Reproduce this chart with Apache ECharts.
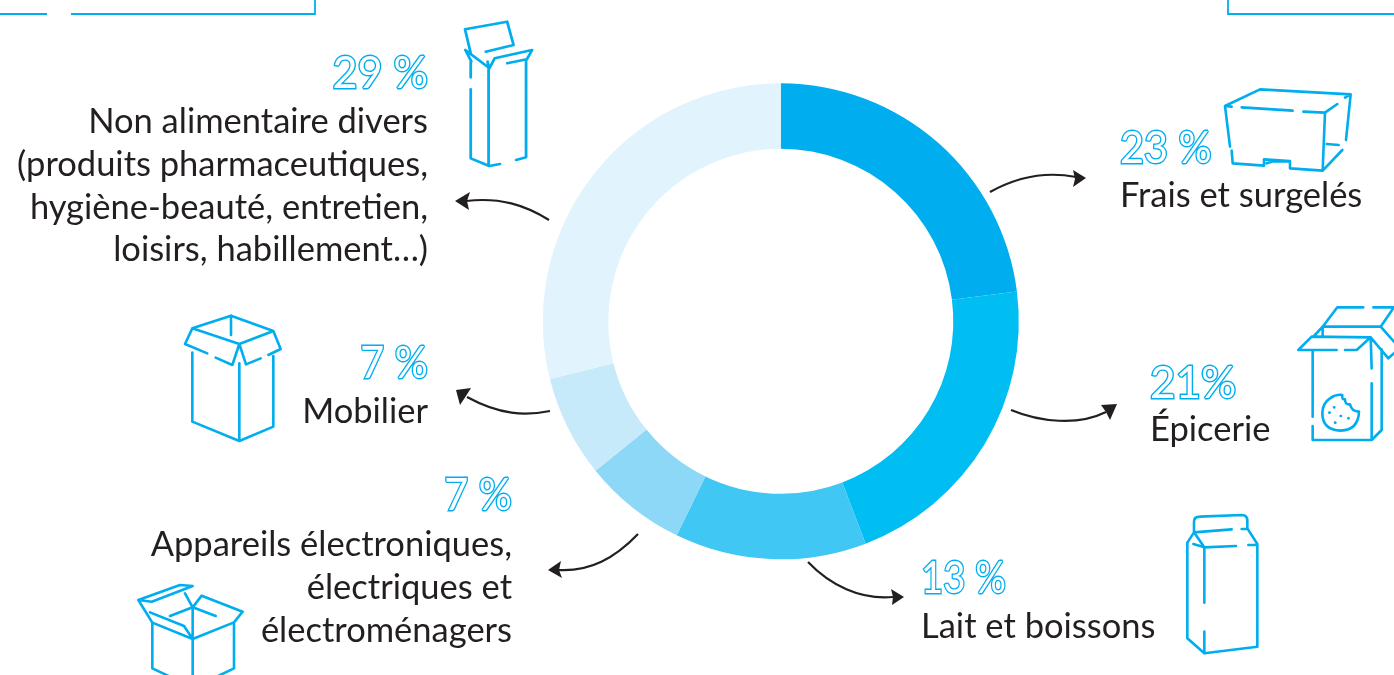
<!DOCTYPE html>
<html lang="fr" style="height: 100%">

<head>
  <meta charset="utf-8">
  <style>
    html,
    body {
      margin: 0;
      padding: 0;
      width: 100%;
      height: 100%;
      overflow: hidden;
      background: #fff;
    }
  </style>
</head>

<body>
  <div id="container" style="height: 100%;width: 100%;"></div>

  <script type="text/javascript" src="https://cdn.jsdelivr.net/npm/echarts@6/dist/echarts.min.js"></script>
  <script type="text/javascript">

    // order = clockwise from 12 o'clock
    const categories = ['Frais et surgelés', 'Épicerie', 'Lait et boissons', 'Appareils électroniques', 'Mobilier', 'Non alimentaire divers'];
    // slice sizes as measured on the picture (the printed labels are rounded)
    const shares = [23, 21.2, 13, 7, 6.9, 28.9];
    const shareLabels = ['23 %', '21%', '13 %', '7 %', '7 %', '29 %'];
    const labelLines = [
      ['Frais et surgelés'],
      ['Épicerie'],
      ['Lait et boissons'],
      ['Appareils électroniques,', 'électriques et', 'électroménagers'],
      ['Mobilier'],
      ['Non alimentaire divers', '(produits pharmaceutiques,', 'hygiène-beauté, entretien,', 'loisirs, habillement…)']
    ];
    const sliceColors = ['#00aeef', '#00bdf2', '#40c7f4', '#8dd7f7', '#c7eafb', '#e1f4fd'];

    const BLUE = '#00aeef';
    const DARK = '#231f20';
    const LINE_H = 42.7;

    // [x, pct centre y, first text line centre y, align, pct squeeze]
    const textPos = [
      [1120, 149, 196, 'left', 0.94],
      [1150, 384, 430, 'left', 1],
      [921, 579, 627, 'left', 0.87],
      [512, 496, 545, 'right', 0.94],
      [428, 364, 412, 'right', 0.94],
      [428, 74, 122, 'right', 0.98]
    ];

    // [start curve, arrow head]
    const arrows = [
      ['M990 192 C1015 178 1045 171 1076 177', 'M1086 178 L1073 170 L1075 179 L1073 187 Z'],
      ['M1011 410 C1040 422 1078 426 1106 412', 'M1117 404 L1101 405 L1106 412 L1110 420 Z'],
      ['M808 562 C830 585 860 600 893 597', 'M904 597 L891 589 L893 597 L892 605 Z'],
      ['M638 534 C615 558 590 572 558 570', 'M548 570 L561 561 L559 570 L562 578 Z'],
      ['M550 411 C525 416 500 415 467 397', 'M456 390 L471 388 L466 396 L460 405 Z'],
      ['M549 220 C525 205 500 197 466 201', 'M455 201 L470 192 L467 201 L469 210 Z']
    ];

    // icons, traced in zoomed pixels: [offset x, offset y, scale x, scale y, path]
    const icons = [
      [1100, 0, 3, 3, 'M375 318L480 268L752 283L738 420M727 450L668 512L570 505L570 483L492 478L492 497L398 490L395 452M390 440L375 318L395 320M425 322L578 332M610 335L675 338L712 312M735 293L752 283M675 338L668 512M680 432L716 435M500 490L520 484L570 484'],
      [1130, 290, 3, 3, 'M548 180L548 380M548 408L548 450L725 450L755 420L755 178M725 450L725 280M725 235L722 142M505 180L620 180M645 180L680 180L722 142L545 140L505 180M578 140L578 110L622 52L700 52M730 52L792 52L752 110L578 110M552 138L578 110M752 110L792 155M722 142L775 205L792 190M600 325Q618 312 637 315Q635 330 645 328Q645 345 660 343Q665 365 687 365Q685 420 632 422Q577 420 577 370Q577 340 600 325M612 352L613 352M598 368L599 368M632 378L633 378M655 385L656 385M615 398L616 398'],
      [1170, 500, 3, 3, 'M72 97L72 65Q72 50 90 50L215 45Q232 45 232 62L232 85L262 132L262 440L103 460L52 415L52 128L72 97L103 142L198 138M235 135L262 135M72 97L185 88M215 87L232 87M70 132L103 142M103 142L103 308M103 395L103 460'],
      [120, 570, 3, 3, 'M55 90L180 45L218 48L95 95L55 90L97 158L218 207M90 127L192 168L218 207L342 157L368 125L245 77L218 112L195 70M218 112L150 138M218 112L287 138M218 112L218 320M97 158L97 295L150 320M342 157L342 295L290 320'],
      [120, 300, 3, 3, 'M217 85L333 47L460 93L358 132L217 85M333 47L333 105M217 85L195 132L262 160M287 173L337 195L358 132M460 93L482 147L445 165M422 175L378 193L358 132M217 158L217 365L358 423L460 380L460 168M358 190L358 423'],
      [0, 0, 2.8, 3, 'M1302 88L1420 65L1438 135L1360 155M1302 88L1318 160M1303 150L1365 200M1303 150L1320 185M1365 185L1370 205L1385 175L1490 150L1475 178L1420 190M1318 185L1318 232M1318 268L1318 475L1370 498L1400 492M1445 480L1473 472L1473 178M1368 205L1368 498']
    ];

    // bits of the neighbouring frames at the page edge
    const frames = 'M0 14L47 14M71 14L315 14L315 0M1228 0L1228 14L1394 14';

    var dom = document.getElementById('container');
    var myChart = echarts.init(dom, null, { renderer: 'canvas' });

    // graphic component has no plain 'path' type, so register each path as a shape
    let shapeCount = 0;
    function pathShape(d) {
      let name = 'deco' + shapeCount++;
      echarts.graphic.registerShape(name, echarts.graphic.extendPath(d, {}));
      return name;
    }

    let graphics = [];

    textPos.forEach((p, i) => {
      graphics.push({
        type: 'text', silent: true, x: p[0], y: p[1], scaleX: p[4],
        style: {
          text: shareLabels[i], textAlign: p[3], textVerticalAlign: 'middle',
          font: '400 44px Lato', fill: '#fff', stroke: BLUE, lineWidth: 2.8
        }
      });
      labelLines[i].forEach((line, j) => {
        graphics.push({
          type: 'text', silent: true, x: p[0], y: p[2] + j * LINE_H,
          style: {
            text: line, textAlign: p[3], textVerticalAlign: 'middle',
            font: '400 34.5px Lato', fill: DARK
          }
        });
      });
    });

    arrows.forEach((a) => {
      graphics.push({ type: pathShape(a[0]), silent: true, style: { fill: null, stroke: DARK, lineWidth: 2.2 } });
      graphics.push({ type: pathShape(a[1]), silent: true, style: { fill: DARK } });
    });

    icons.forEach((ic) => {
      graphics.push({
        type: pathShape(ic[4]), silent: true, x: ic[0], y: ic[1], scaleX: 1 / ic[2], scaleY: 1 / ic[3],
        style: { fill: null, stroke: BLUE, lineWidth: 2.6 * ic[3], lineCap: 'round', lineJoin: 'round' }
      });
    });

    graphics.push({ type: pathShape(frames), silent: true, style: { fill: null, stroke: BLUE, lineWidth: 1.8 } });

    var option = {
      animation: false,
      tooltip: { show: false },
      graphic: { elements: graphics },
      series: [
        {
          type: 'pie',
          silent: true,
          center: [780.8, 321.3],
          radius: [172.5, 238],
          startAngle: 90,
          clockwise: true,
          label: { show: false },
          labelLine: { show: false },
          itemStyle: { borderWidth: 0 },
          data: categories.map((name, i) => ({
            name: name,
            value: shares[i],
            itemStyle: { color: sliceColors[i] }
          }))
        }
      ]
    };

    myChart.setOption(option);
    window.addEventListener('resize', myChart.resize);

  </script>
</body>

</html>
